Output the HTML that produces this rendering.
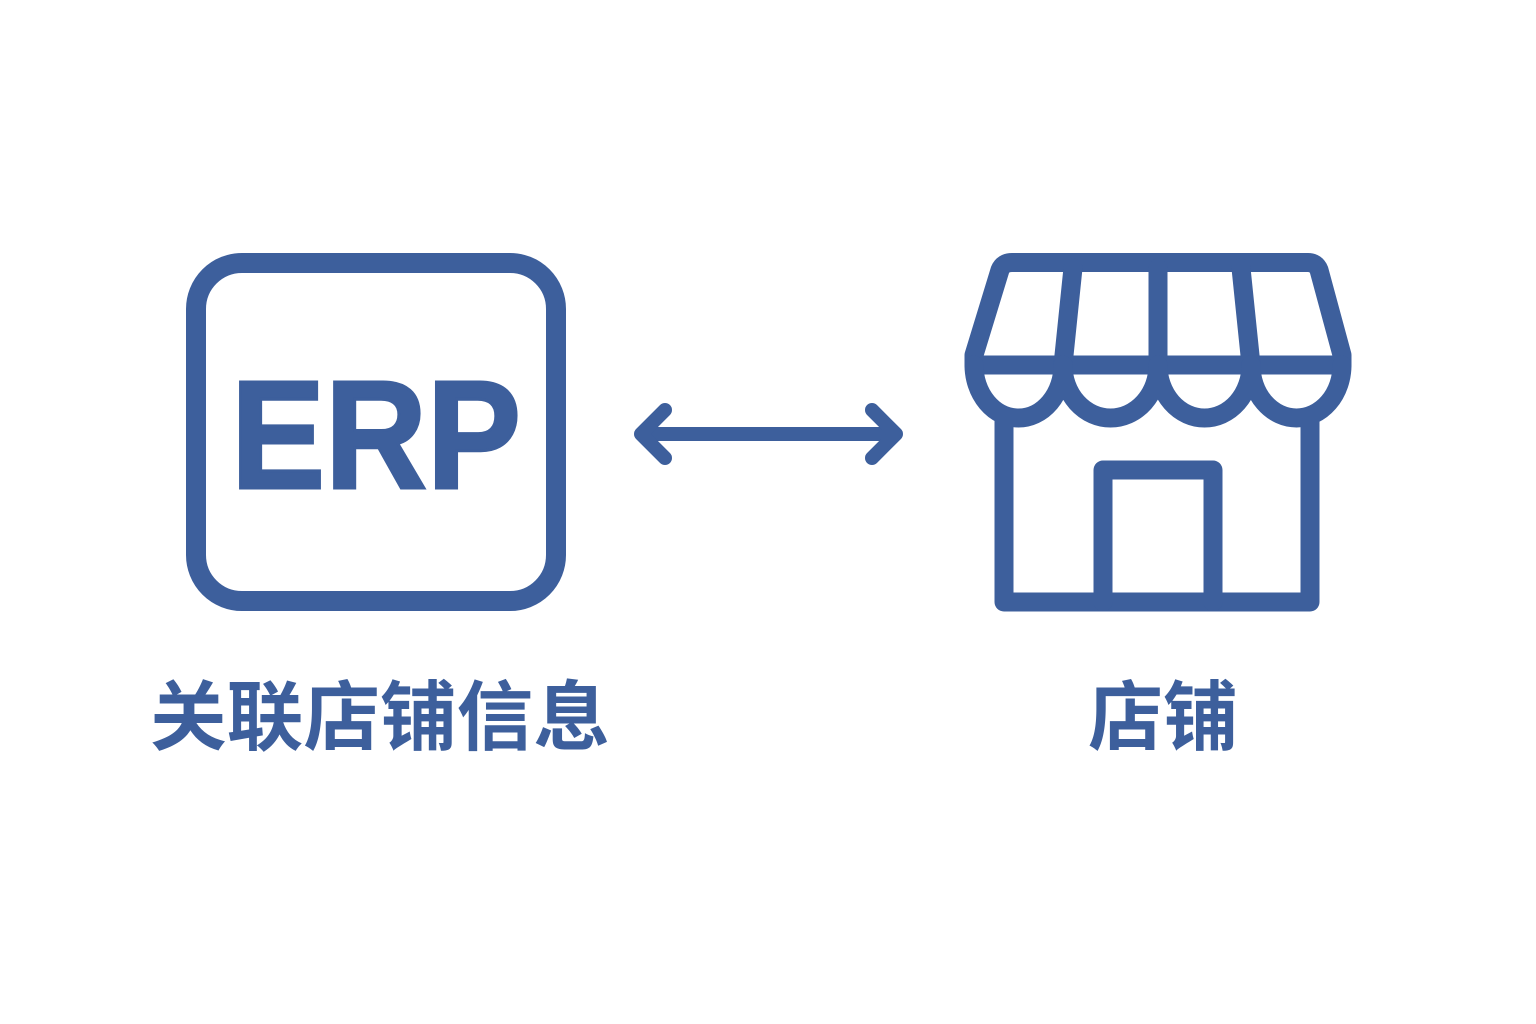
<!DOCTYPE html>
<html><head><meta charset="utf-8"><style>
html,body{margin:0;padding:0;background:#fff;}
svg{display:block}
</style></head><body>
<svg width="1536" height="1024" viewBox="0 0 1536 1024" xmlns="http://www.w3.org/2000/svg">
<g fill="none" stroke="#3d5f9c" stroke-linecap="round" stroke-linejoin="round">
<rect x="196" y="263" width="360" height="338" rx="46" stroke-width="20"/>
<g stroke-width="14">
<line x1="642" y1="434" x2="894" y2="434"/>
<polyline points="665,410 641,434 665,458"/>
<polyline points="872,410 896,434 872,458"/>
</g>
<g stroke-width="19">
<path d="M1012,262.5 L1308,262.5 Q1316,262.5 1319,270 L1342,355 L1342,365 L974,365 L974,355 L1000,270 Q1003,262.5 1012,262.5 Z"/>
<line x1="1073" y1="268" x2="1063" y2="365"/>
<line x1="1158" y1="268" x2="1158" y2="365"/>
<line x1="1241" y1="268" x2="1251" y2="365"/>
<path d="M974,365 A44.5,53 0 0 0 1063,365 A47.5,53 0 0 0 1158,365 A46.5,53 0 0 0 1251,365 A45.5,53 0 0 0 1342,365"/>
<polyline points="1004,420 1004,602 1310,602 1310,420" stroke-linecap="butt"/>
<polyline points="1103,602 1103,470 1213,470 1213,602"/>
</g>
</g>
<text x="376" y="488" text-anchor="middle" font-family="Liberation Sans, sans-serif" font-weight="bold" font-size="154" fill="#3d5f9c" stroke="#3d5f9c" stroke-width="3" textLength="290" lengthAdjust="spacingAndGlyphs">ERP</text>
<text x="380" y="744" text-anchor="middle" font-family="Liberation Sans, Noto Sans CJK SC, sans-serif" font-weight="bold" font-size="76" fill="#3d5f9c" textLength="460" lengthAdjust="spacingAndGlyphs">关联店铺信息</text>
<text x="1163" y="744" text-anchor="middle" font-family="Liberation Sans, Noto Sans CJK SC, sans-serif" font-weight="bold" font-size="76" fill="#3d5f9c" textLength="150" lengthAdjust="spacingAndGlyphs">店铺</text>
</svg>
</body></html>
